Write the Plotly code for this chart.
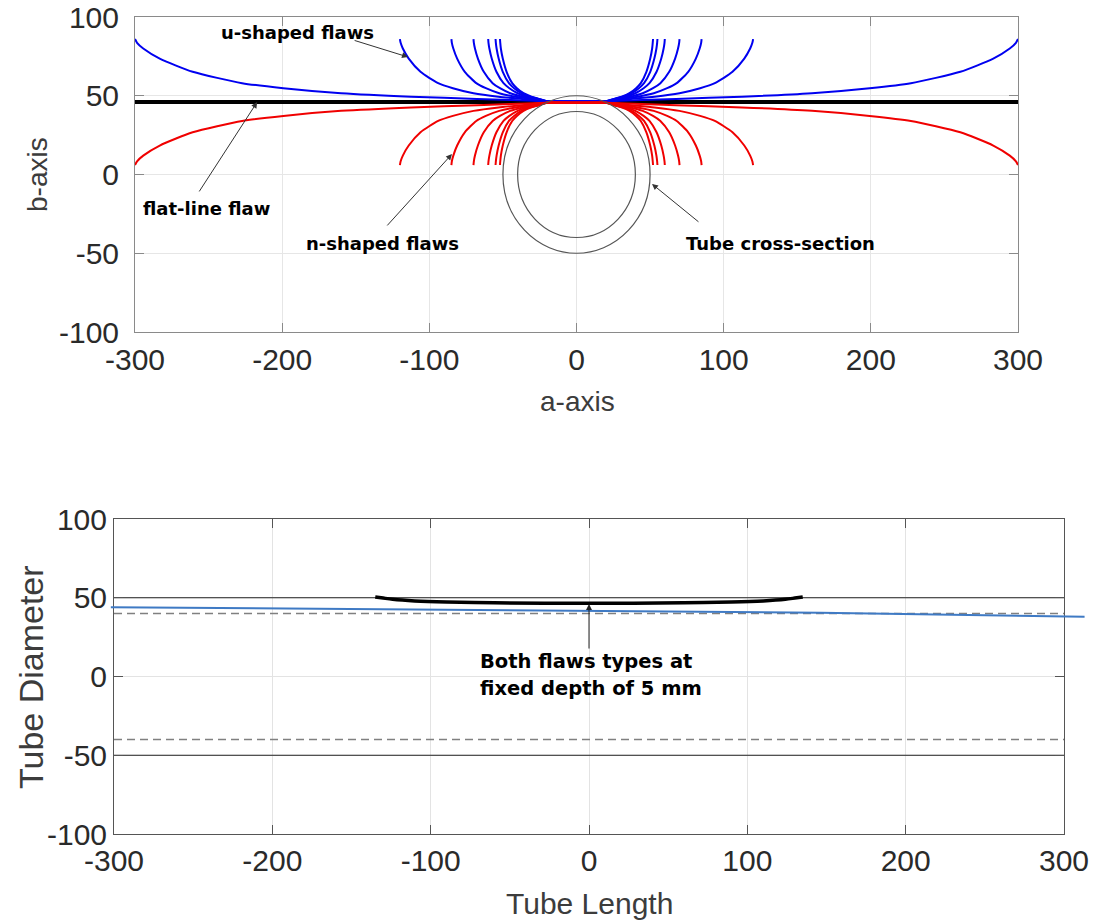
import plotly.graph_objects as go

# ── data ──────────────────────────────────────────────────────────────────────
# top panel: flaw profiles around a tube, right half (x >= 0), mirrored to the left
FLAW_HALF_X = {
    300: [0, 20, 67.6, 112.4, 160, 199.2, 227.2, 260.8, 283.2, 294.4, 298.6, 300],
    120: [0, 20, 37, 53, 70, 84, 94, 106, 114, 118, 119.5, 120],
    85: [0, 20, 31.1, 41.5, 52.5, 61.6, 68.1, 75.9, 81.1, 83.7, 84.7, 85],
    70: [0, 20, 28.5, 36.5, 45, 52, 57, 63, 67, 69, 69.75, 70],
    60: [0, 20, 26.8, 33.2, 40, 45.6, 49.6, 54.4, 57.6, 59.2, 59.8, 60],
    55: [0, 20, 26, 31.6, 37.5, 42.4, 45.9, 50.1, 52.9, 54.3, 54.8, 55],
    52: [0, 20, 25.4, 30.6, 36, 40.5, 43.7, 47.5, 50.1, 51.4, 51.8, 52],
}
U_FLAW_Y = [46.5, 46.5, 48, 49.4, 51.6, 54.8, 58, 65.2, 73.6, 80, 83.6, 86]
N_FLAW_Y = [45.5, 45.5, 44, 42.6, 40.4, 37.2, 34, 26.8, 18.4, 12, 8.4, 6]

FLAT_FLAW_X = [-300, 300]
FLAT_FLAW_Y = [46, 46]

TUBE_OUTER_R = 50
TUBE_INNER_R = 40

# bottom panel
TUBE_LEN_X = [-300, 300]
WALL_OUTER = [50, -50]
WALL_INNER = [40, -40]

BLUE_FLAW_X = [-302, -145, 0, 146, 313]
BLUE_FLAW_Y = [44.0, 42.9, 41.7, 40.5, 38.0]

DEPTH_FLAW_X = [-135, -130, -124, -110, -90, -60, 0, 60, 90, 110, 124, 130, 135]
DEPTH_FLAW_Y = [50.5, 49.8, 49.0, 48.0, 47.3, 46.8, 46.5, 46.8, 47.3, 48.0, 49.0, 49.8, 50.5]

X_TICKS = [-300, -200, -100, 0, 100, 200, 300]
Y_TICKS = [-100, -50, 0, 50, 100]

# ── styling ──────────────────────────────────────────────────────────────────
TICK_FONT = "Liberation Sans, Arial, sans-serif"
NOTE_FONT = "DejaVu Sans, Verdana, sans-serif"
BLUE = "#0000f0"
RED = "#f00000"
STEEL = "#3f7ac4"

W, H = 1094, 922


def sx(px):
    return px / W


def sy(py):
    return 1 - py / H


def labels(vals):
    # plain hyphen minus, as in the reference
    return [str(v) for v in vals]


fig = go.Figure()

# top panel ------------------------------------------------------------------
fig.add_trace(go.Scatter(x=FLAT_FLAW_X, y=FLAT_FLAW_Y, mode="lines",
                         line=dict(color="black", width=4), xaxis="x", yaxis="y",
                         showlegend=False, hoverinfo="skip"))

for ys, color in ((U_FLAW_Y, BLUE), (N_FLAW_Y, RED)):
    for half in FLAW_HALF_X.values():
        xs = [-v for v in reversed(half)] + half[1:]
        yy = list(reversed(ys)) + ys[1:]
        fig.add_trace(go.Scatter(x=xs, y=yy, mode="lines",
                                 line=dict(color=color, width=2, shape="spline", smoothing=0.6),
                                 xaxis="x", yaxis="y", showlegend=False, hoverinfo="skip"))

for r in (TUBE_OUTER_R, TUBE_INNER_R):
    fig.add_shape(type="circle", xref="x", yref="y", x0=-r, x1=r, y0=-r, y1=r,
                  line=dict(color="#555555", width=1.2))

# bottom panel ---------------------------------------------------------------
for y in WALL_OUTER:
    fig.add_trace(go.Scatter(x=TUBE_LEN_X, y=[y, y], mode="lines",
                             line=dict(color="#222222", width=1), xaxis="x2", yaxis="y2",
                             showlegend=False, hoverinfo="skip"))
for y in WALL_INNER:
    fig.add_trace(go.Scatter(x=TUBE_LEN_X, y=[y, y], mode="lines",
                             line=dict(color="#808080", width=1.3, dash="8px,5px"),
                             xaxis="x2", yaxis="y2", showlegend=False, hoverinfo="skip"))

# blue line pokes out past both borders, so it sits on a wider hidden axis
fig.add_trace(go.Scatter(x=BLUE_FLAW_X, y=BLUE_FLAW_Y, mode="lines",
                         line=dict(color=STEEL, width=2), xaxis="x3", yaxis="y3",
                         showlegend=False, hoverinfo="skip"))

fig.add_trace(go.Scatter(x=DEPTH_FLAW_X, y=DEPTH_FLAW_Y, mode="lines",
                         line=dict(color="black", width=3.5, shape="spline", smoothing=0.8),
                         xaxis="x2", yaxis="y2", showlegend=False, hoverinfo="skip"))


def axis(domain, anchor, line_color, grid_color, font_size, standoff, vals, **kw):
    return dict(
        domain=domain, anchor=anchor, showline=True, mirror="ticks",
        linecolor=line_color, linewidth=1, ticks="inside", ticklen=9,
        tickcolor=line_color, showgrid=True, gridcolor=grid_color, zeroline=False,
        tickfont=dict(family=TICK_FONT, size=font_size, color="#2a2a2a"),
        tickvals=vals, ticktext=labels(vals), ticklabeloverflow="allow",
        ticklabelstandoff=standoff, automargin=False, fixedrange=True, **kw,
    )


top_x = [sx(135), sx(1018)]
top_y = [sy(332), sy(17)]
bot_x = [sx(114), sx(1064)]
bot_y = [sy(834), sy(519)]

# hidden axis with the same scale as the bottom panel but a wider span
unit = 950 / 600
wide_left, wide_right = 104, W
wide_range = [-300 - (114 - wide_left) / unit, 300 + (wide_right - 1064) / unit]

fig.update_layout(
    template="none",
    width=W, height=H, margin=dict(l=0, r=0, t=0, b=0, pad=0),
    paper_bgcolor="white", plot_bgcolor="rgba(0,0,0,0)",
    xaxis=axis(top_x, "y", "#8a8a8a", "#e6e6e6", 30, 1, X_TICKS, range=[-300, 300]),
    yaxis=axis(top_y, "x", "#8a8a8a", "#e6e6e6", 30, 9, Y_TICKS, range=[-100, 100]),
    xaxis2=axis(bot_x, "y2", "#555555", "#e3e3e3", 30, 0, X_TICKS, range=[-300, 300]),
    yaxis2=axis(bot_y, "x2", "#555555", "#e3e3e3", 30, 0, Y_TICKS, range=[-100, 100]),
    xaxis3=dict(domain=[sx(wide_left), 1], anchor="y3", visible=False, fixedrange=True,
                automargin=False, range=wide_range),
    yaxis3=dict(domain=bot_y, anchor="x3", visible=False, fixedrange=True,
                automargin=False, range=[-100, 100]),
)

# axis titles
titles = [
    ("a-axis", 577, 401, 0, 28),
    ("b-axis", 38, 175, -90, 28),
    ("Tube Length", 589, 903, 0, 30),
    ("Tube Diameter", 31, 677, -90, 34),
]
for text, cx, cy, angle, size in titles:
    fig.add_annotation(text=text, xref="paper", yref="paper", x=sx(cx), y=sy(cy),
                       xanchor="center", yanchor="middle", textangle=angle, showarrow=False,
                       font=dict(family=TICK_FONT, size=size, color="#3c3c3c"))

# callouts: text centre, arrow head, arrow tail (data units)
notes = [
    ("u-shaped flaws", -189.9, 90.2, -114.5, 74.6, -151.8, 85.4),
    ("flat-line flaw", -251.7, -21.3, -217, 46, -257, -11.7),
    ("n-shaped flaws", -131.5, -43.5, -84.6, 13, -129.5, -33.3),
    ("Tube cross-section", 138.9, -43.5, 51.3, -6.0, 83.9, -30.8),
]
for text, tx, ty, hx, hy, tx0, ty0 in notes:
    fig.add_annotation(text=f"<b>{text}</b>", xref="x", yref="y", x=tx, y=ty, showarrow=False,
                       font=dict(family=NOTE_FONT, size=18, color="black"))
    fig.add_annotation(text="", xref="x", yref="y", x=hx, y=hy, axref="x", ayref="y",
                       ax=tx0, ay=ty0, showarrow=True, arrowhead=2, arrowsize=1.2,
                       arrowwidth=1, arrowcolor="#333333")

for line, ly in (("Both flaws types at", 9.8), ("fixed depth of 5 mm", -7.3)):
    fig.add_annotation(text=f"<b>{line}</b>", xref="x2", yref="y2", x=-70.1, y=ly,
                       xanchor="left", showarrow=False,
                       font=dict(family=NOTE_FONT, size=19.5, color="black"))
fig.add_annotation(text="", xref="x2", yref="y2", x=0, y=46, axref="x2", ayref="y2", ax=0, ay=16.8,
                   showarrow=True, arrowhead=2, arrowsize=1.2, arrowwidth=1, arrowcolor="#222222")

# drop the default 8px body margin so the figure fills the window exactly
fig.write_html("out.html", config={"displayModeBar": False},
               post_script="document.body.style.margin = '0';")
